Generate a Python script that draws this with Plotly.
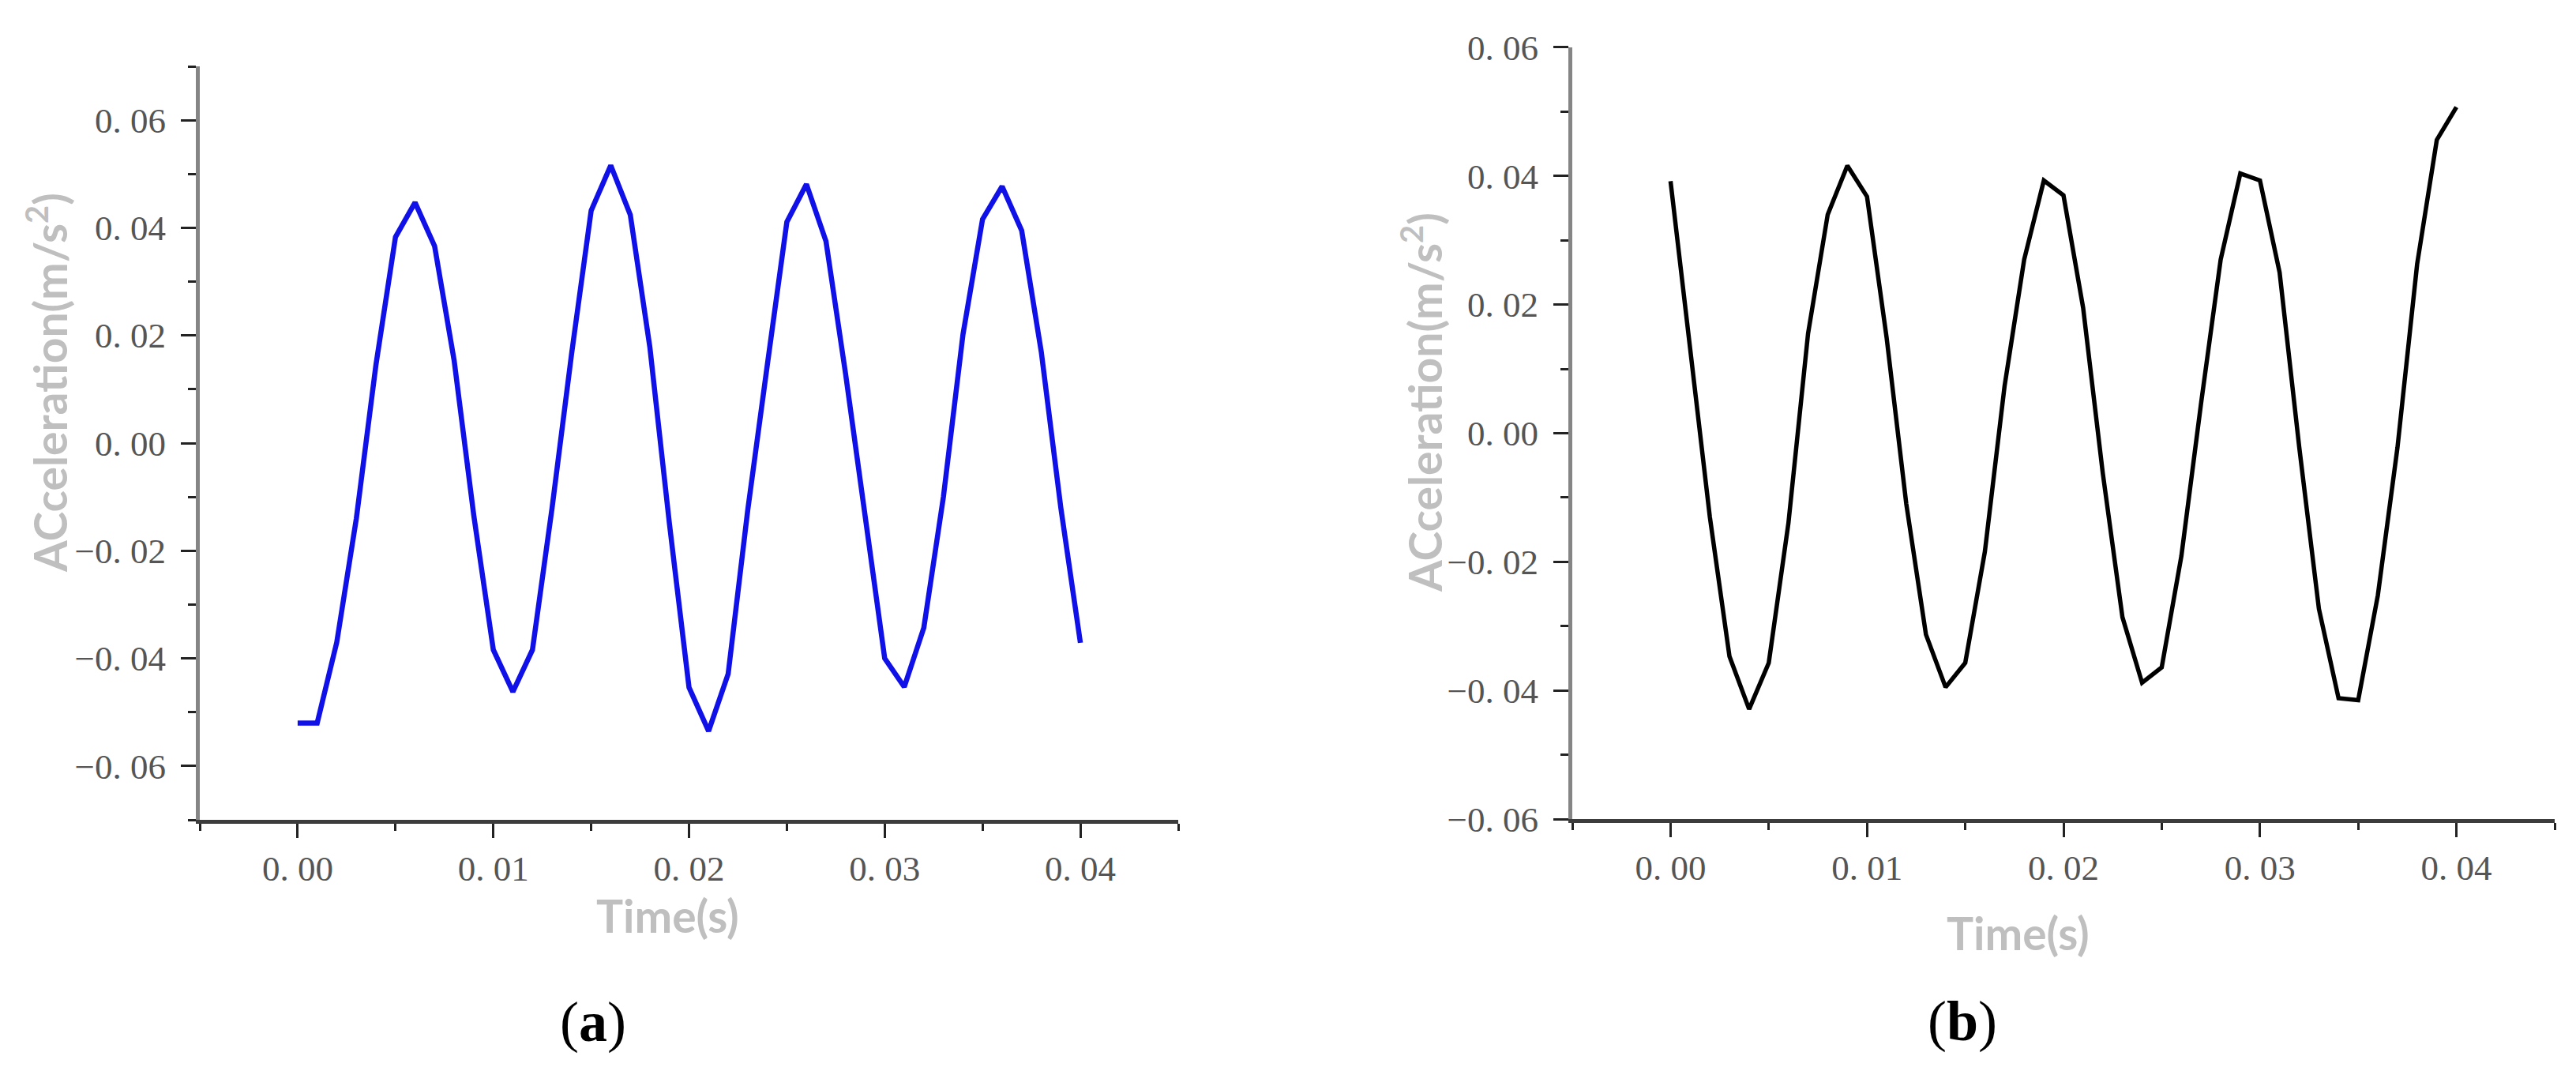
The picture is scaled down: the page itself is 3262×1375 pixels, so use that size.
import plotly.graph_objects as go

# ---------------- data ----------------
time_s = [0.000, 0.001, 0.002, 0.003, 0.004, 0.005, 0.006, 0.007, 0.008, 0.009,
          0.010, 0.011, 0.012, 0.013, 0.014, 0.015, 0.016, 0.017, 0.018, 0.019,
          0.020, 0.021, 0.022, 0.023, 0.024, 0.025, 0.026, 0.027, 0.028, 0.029,
          0.030, 0.031, 0.032, 0.033, 0.034, 0.035, 0.036, 0.037, 0.038, 0.039,
          0.040]

accel_a = [-0.052, -0.052, -0.037, -0.014, 0.0145, 0.0383, 0.0447, 0.0366, 0.0153, -0.0134,
           -0.0384, -0.0462, -0.0384, -0.0121, 0.0166, 0.0432, 0.0516, 0.0424, 0.0178, -0.015,
           -0.0454, -0.0535, -0.0429, -0.0125, 0.0145, 0.0411, 0.0481, 0.0375, 0.0129, -0.014,
           -0.040, -0.0453, -0.0343, -0.010, 0.0202, 0.0416, 0.0477, 0.0395, 0.0170, -0.012,
           -0.0371]

accel_b = [0.0392, 0.0134, -0.013, -0.0347, -0.0429, -0.0357, -0.014, 0.0155, 0.034, 0.0416,
           0.0368, 0.0148, -0.011, -0.0313, -0.0395, -0.0357, -0.0184, 0.0073, 0.027, 0.0393,
           0.037, 0.0195, -0.0062, -0.0286, -0.0388, -0.0364, -0.0191, 0.0046, 0.027, 0.0404,
           0.0393, 0.025, -0.0022, -0.0273, -0.0412, -0.0415, -0.0252, -0.0022, 0.0263, 0.0456,
           0.0507]

x_tickvals = [0.00, 0.01, 0.02, 0.03, 0.04]
x_ticktext = ["0. 00", "0. 01", "0. 02", "0. 03", "0. 04"]
y_tickvals = [-0.06, -0.04, -0.02, 0.00, 0.02, 0.04, 0.06]
y_ticktext = ["\u22120. 06", "\u22120. 04", "\u22120. 02", "0. 00", "0. 02", "0. 04", "0. 06"]

x_title = "Time(s)"
y_title = "ACceleration(m/s<sup>2</sup>)"
panel_labels = ["(<b>a</b>)", "(<b>b</b>)"]

# ---------------- layout helpers ----------------
W, H = 3262, 1375


def fx(px):
    return px / W


def fy(py):
    return 1 - py / H


tick_font = dict(family="Liberation Serif", size=45, color="#555555")
title_font = dict(family="Lato", size=57, color="#bfbfbf", weight="bold")

fig = go.Figure()
fig.add_trace(go.Scatter(x=time_s, y=accel_a, mode="lines",
                         line=dict(color="#1010e8", width=6.5),
                         xaxis="x", yaxis="y", showlegend=False))
fig.add_trace(go.Scatter(x=time_s, y=accel_b, mode="lines",
                         line=dict(color="#000000", width=5.5),
                         xaxis="x2", yaxis="y2", showlegend=False))


def xaxis_cfg(domain, anchor):
    return dict(domain=domain, anchor=anchor, range=[-0.005, 0.045],
                showgrid=False, zeroline=False, showline=True,
                linecolor="#3c3c3c", linewidth=5,
                ticks="outside", ticklen=18, tickwidth=3, tickcolor="#222222",
                tickvals=x_tickvals, ticktext=x_ticktext, tickfont=tick_font,
                ticklabelstandoff=0,
                minor=dict(ticks="outside", ticklen=9, tickwidth=3, tickcolor="#222222",
                           tick0=-0.005, dtick=0.005, showgrid=False))


def yaxis_cfg(domain, anchor, rng):
    return dict(domain=domain, anchor=anchor, range=rng,
                showgrid=False, zeroline=False, showline=True,
                linecolor="#858585", linewidth=5,
                ticks="outside", ticklen=19, tickwidth=3, tickcolor="#222222",
                tickvals=y_tickvals, ticktext=y_ticktext, tickfont=tick_font,
                ticklabelstandoff=10,
                minor=dict(ticks="outside", ticklen=10, tickwidth=3, tickcolor="#222222",
                           tick0=0.0, dtick=0.01, showgrid=False))


fig.update_layout(
    width=W, height=H,
    margin=dict(l=0, r=0, t=0, b=0),
    paper_bgcolor="white", plot_bgcolor="white",
    xaxis=xaxis_cfg([fx(245), fx(1484)], "y"),
    yaxis=yaxis_cfg([fy(1044), fy(54)], "x", [-0.07, 0.07]),
    xaxis2=xaxis_cfg([fx(1983), fx(3227)], "y2"),
    yaxis2=yaxis_cfg([fy(1043), fy(29)], "x2", [-0.06, 0.06]),
)

annos = [
    dict(text=x_title, x=fx(837), y=fy(1170), font=title_font),
    dict(text=x_title, x=fx(2547), y=fy(1192), font=title_font),
    dict(text=y_title, x=fx(52), y=fy(470), font=title_font, textangle=-90),
    dict(text=y_title, x=fx(1793), y=fy(496), font=title_font, textangle=-90),
    dict(text=panel_labels[0], x=fx(743), y=fy(1310),
         font=dict(family="Liberation Serif", size=72, color="#000000")),
    dict(text=panel_labels[1], x=fx(2477), y=fy(1309),
         font=dict(family="Liberation Serif", size=72, color="#000000")),
]
for a in annos:
    fig.add_annotation(xref="paper", yref="paper", showarrow=False,
                       xanchor="center", yanchor="middle", **a)

fig.write_html("out.html")
